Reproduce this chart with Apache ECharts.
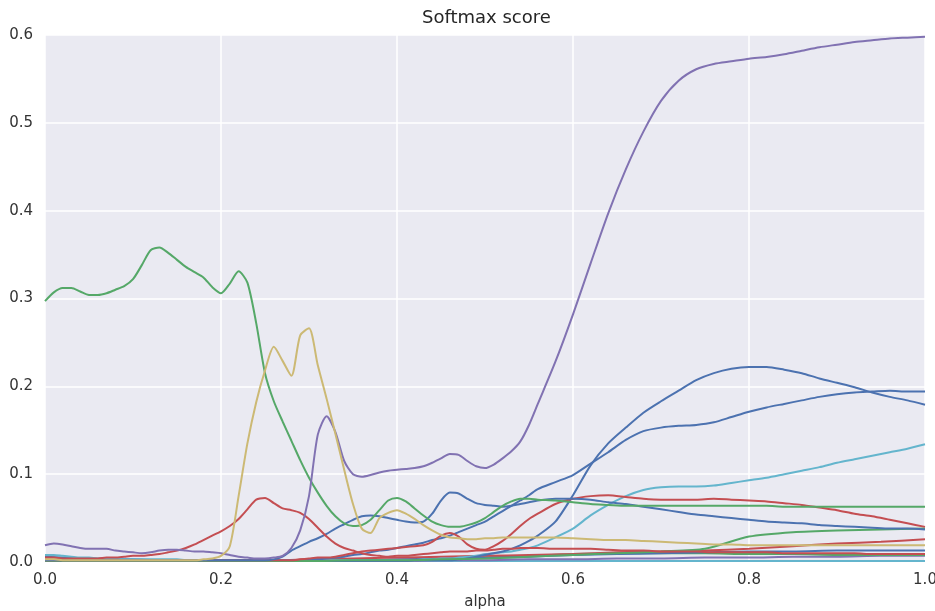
<!DOCTYPE html>
<html>
<head>
<meta charset="utf-8">
<script src="https://cdn.jsdelivr.net/npm/echarts@6/dist/echarts.min.js"></script>
<style>
  html, body { margin: 0; padding: 0; background: #fff; }
  #chart { width: 935px; height: 611px; }
</style>
</head>
<body>
<div id="chart"></div>
<script>
// x positions (alpha), fine for the busy part, coarser after 0.56
const alpha = [0, 0.01, 0.02, 0.03, 0.04, 0.05, 0.06, 0.07, 0.08, 0.09,
  0.10, 0.11, 0.12, 0.13, 0.14, 0.15, 0.16, 0.17, 0.18, 0.19,
  0.20, 0.21, 0.22, 0.23, 0.24, 0.25, 0.26, 0.27, 0.28, 0.29,
  0.30, 0.31, 0.32, 0.33, 0.34, 0.35, 0.36, 0.37, 0.38, 0.39,
  0.40, 0.41, 0.42, 0.43, 0.44, 0.45, 0.46, 0.47, 0.48, 0.49,
  0.50, 0.51, 0.52, 0.53, 0.54, 0.55, 0.56,
  0.58, 0.60, 0.62, 0.64, 0.66, 0.68, 0.70, 0.72, 0.74, 0.76, 0.78,
  0.80, 0.82, 0.84, 0.86, 0.88, 0.90, 0.92, 0.94, 0.96, 0.98, 1.00]

// x positions for the small flat lines near zero
const alphaCoarse = [0, 0.05, 0.10, 0.15, 0.20, 0.25, 0.30, 0.35, 0.40, 0.45, 0.50,
  0.55, 0.60, 0.65, 0.70, 0.75, 0.80, 0.85, 0.90, 0.95, 1.00]

const greenMain = [0.297, 0.307, 0.312, 0.312, 0.308, 0.304, 0.304, 0.306, 0.310, 0.314,
  0.322, 0.338, 0.355, 0.358, 0.352, 0.344, 0.336, 0.330, 0.324, 0.313,
  0.306, 0.317, 0.331, 0.318, 0.272, 0.215, 0.183, 0.160, 0.138, 0.116,
  0.096, 0.079, 0.064, 0.052, 0.044, 0.041, 0.042, 0.048, 0.059, 0.070,
  0.073, 0.069, 0.061, 0.053, 0.046, 0.042, 0.040, 0.040, 0.042, 0.045,
  0.050, 0.057, 0.064, 0.069, 0.072, 0.072, 0.071,
  0.070, 0.068, 0.066, 0.065, 0.064, 0.064, 0.064, 0.064, 0.064, 0.064, 0.064,
  0.064, 0.064, 0.063, 0.063, 0.063, 0.063, 0.063, 0.063, 0.063, 0.063, 0.063]

const yellowMain = [0.003, 0.003, 0.002, 0.002, 0.002, 0.002, 0.002, 0.002, 0.002, 0.002,
  0.002, 0.002, 0.002, 0.002, 0.002, 0.002, 0.002, 0.002, 0.003, 0.004,
  0.007, 0.018, 0.075, 0.135, 0.182, 0.218, 0.245, 0.229, 0.212, 0.258,
  0.266, 0.224, 0.186, 0.146, 0.105, 0.066, 0.038, 0.033, 0.050, 0.056,
  0.059, 0.055, 0.049, 0.042, 0.036, 0.031, 0.028, 0.027, 0.026, 0.026,
  0.027, 0.027, 0.028, 0.028, 0.028, 0.028, 0.028,
  0.028, 0.027, 0.026, 0.025, 0.025, 0.024, 0.023, 0.022, 0.021, 0.020, 0.020,
  0.019, 0.019, 0.019, 0.019, 0.019, 0.019, 0.019, 0.019, 0.019, 0.019, 0.019]

const purpleMain = [0.019, 0.021, 0.020, 0.018, 0.016, 0.015, 0.015, 0.015, 0.013, 0.012,
  0.011, 0.010, 0.011, 0.013, 0.014, 0.014, 0.013, 0.012, 0.012, 0.011,
  0.010, 0.008, 0.006, 0.005, 0.004, 0.004, 0.005, 0.007, 0.016, 0.036,
  0.075, 0.145, 0.166, 0.148, 0.115, 0.100, 0.097, 0.099, 0.102, 0.104,
  0.105, 0.106, 0.107, 0.109, 0.113, 0.118, 0.123, 0.122, 0.115, 0.109,
  0.107, 0.111, 0.118, 0.126, 0.137, 0.156, 0.180,
  0.228, 0.282, 0.340, 0.397, 0.447, 0.490, 0.525, 0.548, 0.561, 0.567, 0.570,
  0.573, 0.575, 0.578, 0.582, 0.586, 0.589, 0.592, 0.594, 0.596, 0.597, 0.598]

const redPeak = [0.005, 0.005, 0.004, 0.004, 0.004, 0.004, 0.004, 0.005, 0.005, 0.006,
  0.007, 0.007, 0.008, 0.009, 0.011, 0.013, 0.016, 0.020, 0.025, 0.030,
  0.035, 0.041, 0.049, 0.060, 0.071, 0.073, 0.067, 0.061, 0.059, 0.056,
  0.049, 0.039, 0.029, 0.021, 0.016, 0.013, 0.010, 0.008, 0.007, 0.006,
  0.007, 0.007, 0.008, 0.009, 0.010, 0.011, 0.012, 0.012, 0.012, 0.013,
  0.013, 0.014, 0.015, 0.015, 0.016, 0.016, 0.016,
  0.015, 0.015, 0.015, 0.014, 0.013, 0.013, 0.012, 0.012, 0.012, 0.011, 0.011,
  0.011, 0.011, 0.010, 0.010, 0.010, 0.010, 0.010, 0.009, 0.009, 0.009, 0.009]

const redLate = [0.002, 0.002, 0.002, 0.002, 0.002, 0.002, 0.002, 0.002, 0.002, 0.002,
  0.002, 0.002, 0.002, 0.002, 0.002, 0.002, 0.002, 0.002, 0.002, 0.002,
  0.002, 0.002, 0.002, 0.002, 0.002, 0.002, 0.002, 0.002, 0.002, 0.003,
  0.004, 0.005, 0.005, 0.006, 0.008, 0.010, 0.012, 0.013, 0.014, 0.015,
  0.016, 0.017, 0.018, 0.019, 0.023, 0.030, 0.033, 0.029, 0.020, 0.015,
  0.014, 0.018, 0.024, 0.032, 0.041, 0.049, 0.055,
  0.066, 0.072, 0.075, 0.076, 0.074, 0.072, 0.071, 0.071, 0.071, 0.072, 0.071,
  0.070, 0.069, 0.067, 0.065, 0.062, 0.059, 0.055, 0.052, 0.048, 0.044, 0.040]

const blueHump = [0.002, 0.002, 0.002, 0.002, 0.002, 0.002, 0.002, 0.002, 0.002, 0.002,
  0.002, 0.002, 0.002, 0.002, 0.002, 0.002, 0.002, 0.002, 0.002, 0.002,
  0.002, 0.002, 0.002, 0.002, 0.002, 0.002, 0.003, 0.006, 0.013, 0.018,
  0.023, 0.027, 0.032, 0.038, 0.043, 0.048, 0.052, 0.053, 0.052, 0.050,
  0.048, 0.046, 0.045, 0.046, 0.055, 0.070, 0.079, 0.078, 0.072, 0.067,
  0.065, 0.064, 0.063, 0.064, 0.066, 0.068, 0.070,
  0.072, 0.072, 0.071, 0.068, 0.066, 0.063, 0.060, 0.057, 0.054, 0.052, 0.050,
  0.048, 0.046, 0.045, 0.044, 0.042, 0.041, 0.040, 0.039, 0.038, 0.038, 0.037]

const blueRise = [0.002, 0.002, 0.002, 0.002, 0.002, 0.002, 0.002, 0.002, 0.002, 0.002,
  0.002, 0.002, 0.002, 0.002, 0.002, 0.002, 0.002, 0.002, 0.002, 0.002,
  0.002, 0.002, 0.002, 0.002, 0.002, 0.002, 0.002, 0.002, 0.002, 0.002,
  0.003, 0.003, 0.004, 0.005, 0.006, 0.008, 0.009, 0.011, 0.013, 0.014,
  0.016, 0.018, 0.020, 0.022, 0.025, 0.027, 0.030, 0.034, 0.038, 0.042,
  0.046, 0.052, 0.058, 0.064, 0.070, 0.076, 0.083,
  0.091, 0.099, 0.112, 0.125, 0.139, 0.149, 0.153, 0.155, 0.156, 0.159, 0.165,
  0.171, 0.176, 0.180, 0.184, 0.188, 0.191, 0.193, 0.194, 0.195, 0.194, 0.194]

const bluePeak = [0.001, 0.001, 0.001, 0.001, 0.001, 0.001, 0.001, 0.001, 0.001, 0.001,
  0.001, 0.001, 0.001, 0.001, 0.001, 0.001, 0.001, 0.001, 0.001, 0.001,
  0.001, 0.001, 0.001, 0.001, 0.001, 0.001, 0.001, 0.001, 0.001, 0.001,
  0.001, 0.001, 0.001, 0.001, 0.001, 0.001, 0.001, 0.001, 0.001, 0.001,
  0.001, 0.001, 0.002, 0.002, 0.002, 0.002, 0.002, 0.003, 0.004, 0.006,
  0.008, 0.010, 0.012, 0.015, 0.019, 0.024, 0.030,
  0.046, 0.076, 0.110, 0.135, 0.153, 0.170, 0.183, 0.195, 0.207, 0.215, 0.220,
  0.222, 0.222, 0.219, 0.215, 0.209, 0.204, 0.199, 0.193, 0.188, 0.184, 0.179]

const cyanMain = [0.008, 0.008, 0.007, 0.006, 0.005, 0.005, 0.004, 0.004, 0.004, 0.003,
  0.003, 0.003, 0.003, 0.003, 0.003, 0.003, 0.002, 0.002, 0.002, 0.002,
  0.002, 0.002, 0.002, 0.002, 0.002, 0.002, 0.002, 0.002, 0.002, 0.002,
  0.002, 0.002, 0.002, 0.002, 0.002, 0.002, 0.002, 0.002, 0.002, 0.002,
  0.002, 0.002, 0.002, 0.003, 0.003, 0.004, 0.004, 0.005, 0.006, 0.007,
  0.009, 0.010, 0.011, 0.012, 0.014, 0.016, 0.019,
  0.028, 0.038, 0.053, 0.065, 0.075, 0.082, 0.085, 0.086, 0.086, 0.087, 0.090,
  0.093, 0.096, 0.100, 0.104, 0.108, 0.113, 0.117, 0.121, 0.125, 0.129, 0.134]

// small lines on alphaCoarse
const greenLateRise = [0.001, 0.001, 0.001, 0.001, 0.001, 0.001, 0.001, 0.002, 0.002, 0.003, 0.004,
  0.006, 0.008, 0.010, 0.012, 0.015, 0.029, 0.034, 0.036, 0.037, 0.038]
const redLow = [0.003, 0.002, 0.002, 0.002, 0.002, 0.002, 0.003, 0.004, 0.005, 0.006, 0.007,
  0.008, 0.009, 0.011, 0.012, 0.013, 0.015, 0.018, 0.021, 0.023, 0.026]
const blueLow = [0.006, 0.004, 0.003, 0.002, 0.002, 0.002, 0.002, 0.002, 0.003, 0.004, 0.005,
  0.006, 0.008, 0.009, 0.010, 0.011, 0.012, 0.012, 0.013, 0.013, 0.013]
const greenLow = [0.001, 0.001, 0.001, 0.001, 0.001, 0.001, 0.001, 0.001, 0.002, 0.003, 0.005,
  0.007, 0.009, 0.010, 0.010, 0.010, 0.009, 0.009, 0.008, 0.008, 0.008]
const purpleLow = [0.001, 0.001, 0.001, 0.001, 0.001, 0.001, 0.001, 0.001, 0.001, 0.002, 0.002,
  0.003, 0.003, 0.004, 0.004, 0.005, 0.005, 0.006, 0.006, 0.007, 0.007]
const cyanLow = [0.001, 0.001, 0.001, 0.001, 0.001, 0.001, 0.001, 0.001, 0.001, 0.001, 0.001,
  0.001, 0.001, 0.001, 0.001, 0.001, 0.001, 0.001, 0.001, 0.001, 0.001]

const yTicks = [0, 0.1, 0.2, 0.3, 0.4, 0.5, 0.6]
const xTicks = [0, 0.2, 0.4, 0.6, 0.8, 1.0]

// seaborn "deep"
const C = {
  blue: '#4C72B0', green: '#55A868', red: '#C44E52',
  purple: '#8172B2', yellow: '#CCB974', cyan: '#64B5CD'
}

function pairs(xs, ys) {
  return xs.map((x, i) => [x, ys[i]])
}

function line(xs, ys, color) {
  return {
    type: 'line',
    data: pairs(xs, ys),
    showSymbol: false,
    smooth: 0.25,
    lineStyle: { color: color, width: 2 },
    itemStyle: { color: color },
    silent: true
  }
}

const chart = echarts.init(document.getElementById('chart'))

const axisText = { color: '#333', fontSize: 15, fontFamily: 'DejaVu Sans' }

chart.setOption({
  animation: false,
  backgroundColor: '#fff',
  title: {
    text: 'Softmax score',
    left: 417,
    top: 4,
    textStyle: { color: '#262626', fontSize: 18, fontWeight: 'normal', fontFamily: 'DejaVu Sans' }
  },
  grid: {
    left: 45, right: 10, top: 35, bottom: 49,
    outerBoundsMode: 'none',
    containLabel: false,
    show: true, backgroundColor: '#EAEAF2', borderWidth: 0
  },
  xAxis: {
    type: 'value',
    min: xTicks[0],
    max: xTicks[xTicks.length - 1],
    interval: 0.2,
    name: 'alpha',
    nameLocation: 'middle',
    nameGap: 33,
    nameTextStyle: axisText,
    axisLine: { show: false },
    axisTick: { show: false },
    axisLabel: Object.assign({ margin: 11, formatter: v => v.toFixed(1) }, axisText),
    splitLine: { show: true, lineStyle: { color: '#fff', width: 1.5 } }
  },
  yAxis: {
    type: 'value',
    min: yTicks[0],
    max: yTicks[yTicks.length - 1],
    interval: 0.1,
    axisLine: { show: false },
    axisTick: { show: false },
    axisLabel: Object.assign({ margin: 12, formatter: v => v.toFixed(1) }, axisText),
    splitLine: { show: true, lineStyle: { color: '#fff', width: 1.5 } }
  },
  series: [
    line(alphaCoarse, cyanLow, C.cyan),
    line(alphaCoarse, purpleLow, C.purple),
    line(alphaCoarse, greenLow, C.green),
    line(alphaCoarse, blueLow, C.blue),
    line(alphaCoarse, redLow, C.red),
    line(alpha, cyanMain, C.cyan),
    line(alpha, bluePeak, C.blue),
    line(alpha, blueRise, C.blue),
    line(alphaCoarse, greenLateRise, C.green),
    line(alpha, redLate, C.red),
    line(alpha, blueHump, C.blue),
    line(alpha, greenMain, C.green),
    line(alpha, redPeak, C.red),
    line(alpha, purpleMain, C.purple),
    line(alpha, yellowMain, C.yellow)
  ]
})
</script>
</body>
</html>
